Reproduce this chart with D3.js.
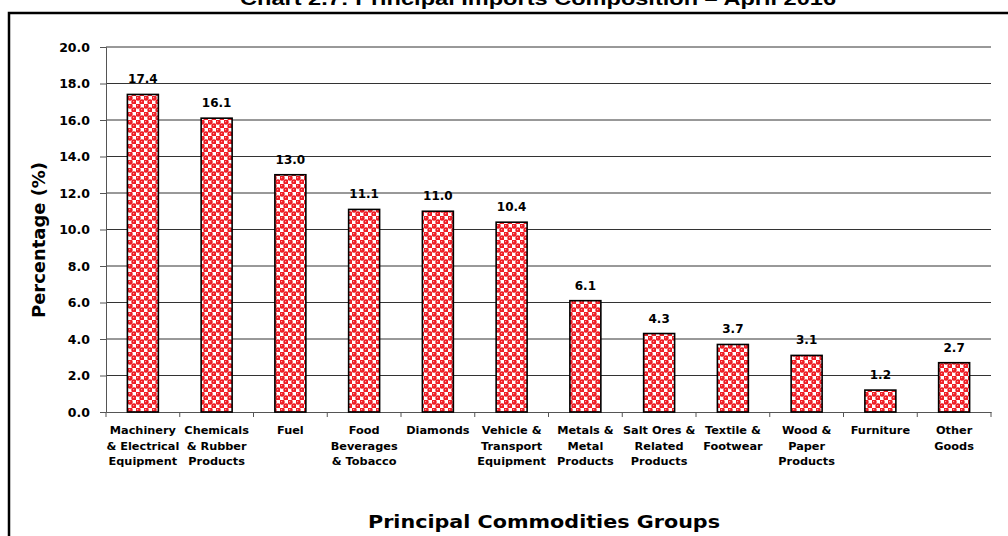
<!DOCTYPE html>
<html><head><meta charset="utf-8">
<script src="https://cdn.jsdelivr.net/npm/d3@7"></script>
<style>body{margin:0;background:#fff;overflow:hidden}svg{display:block}</style>
</head><body>
<script>
const categories = [
  ["Machinery","& Electrical","Equipment"],
  ["Chemicals","& Rubber","Products"],
  ["Fuel"],
  ["Food","Beverages","& Tobacco"],
  ["Diamonds"],
  ["Vehicle &","Transport","Equipment"],
  ["Metals &","Metal","Products"],
  ["Salt Ores &","Related","Products"],
  ["Textile &","Footwear"],
  ["Wood &","Paper","Products"],
  ["Furniture"],
  ["Other","Goods"]
];
const values = [17.4, 16.1, 13.0, 11.1, 11.0, 10.4, 6.1, 4.3, 3.7, 3.1, 1.2, 2.7];
const yTicks = [0, 2, 4, 6, 8, 10, 12, 14, 16, 18, 20];
const title = "Chart 2.7: Principal Imports Composition \u2013 April 2016";
const yTitle = "Percentage (%)";
const xTitle = "Principal Commodities Groups";

(function(){
const W = 1008, H = 536;
const font = "'DejaVu Sans', sans-serif";
const svg = d3.select("body").append("svg").attr("width", W).attr("height", H);

const red = "#ee1c24";
const defs = svg.append("defs");
const pat = defs.append("pattern").attr("id","chk").attr("patternUnits","userSpaceOnUse")
  .attr("width",8).attr("height",8);
pat.append("rect").attr("width",8).attr("height",8).attr("fill","#ffffff");
[[0,0],[4,4]].forEach(p=>pat.append("rect").attr("x",p[0]).attr("y",p[1]).attr("width",4).attr("height",4).attr("fill",red));
[[2,2],[6,6]].forEach(p=>pat.append("circle").attr("cx",p[0]).attr("cy",p[1]).attr("r",2.7).attr("fill",red));
[[1,1],[5,5]].forEach(p=>pat.append("rect").attr("x",p[0]).attr("y",p[1]).attr("width",1.2).attr("height",1.2).attr("fill","#ff9a9a"));

svg.append("rect").attr("x",9).attr("y",13).attr("width",W+20).attr("height",H+20)
  .attr("fill","none").attr("stroke","#000").attr("stroke-width",2.5);

svg.append("text").attr("x",538).attr("y",5).attr("text-anchor","middle")
  .attr("font-family","'Liberation Sans', Arial, sans-serif").attr("font-weight","bold")
  .attr("font-size",18).attr("textLength",596).attr("lengthAdjust","spacingAndGlyphs").text(title);

const pl = 106, pr = 991, pt = 47, pb = 412;
const x = d3.scaleBand().domain(d3.range(categories.length)).range([pl, pr]).paddingInner(0.58).paddingOuter(0.29);
const xb = d3.scaleBand().domain(d3.range(categories.length)).range([pl, pr]);
const y = d3.scaleLinear().domain([0, 20]).range([pb, pt]);

svg.append("g").selectAll("line").data(yTicks.filter(d=>d>0)).join("line")
  .attr("x1",pl).attr("x2",pr).attr("y1",d=>y(d)).attr("y2",d=>y(d))
  .attr("stroke","#333").attr("stroke-width",1);

const ya = svg.append("g").attr("transform",`translate(${pl},0)`)
  .call(d3.axisLeft(y).tickValues(yTicks).tickFormat(d3.format(".1f")).tickSize(6).tickPadding(10));
ya.select(".domain").attr("stroke","#555");
ya.selectAll(".tick line").attr("stroke","#555");
ya.selectAll("text").attr("font-family",font).attr("font-weight","bold").attr("font-size",12.5).attr("fill","#000");

const xa = svg.append("g").attr("transform",`translate(0,${pb})`)
  .call(d3.axisBottom(xb).tickSize(0).tickFormat(""));
xa.select(".domain").attr("stroke","#555");
xa.selectAll(".tick").remove();
xa.selectAll("line.b").data(d3.range(categories.length+1)).join("line").attr("class","b")
  .attr("x1",i=>pl+i*xb.step()).attr("x2",i=>pl+i*xb.step()).attr("y1",0).attr("y2",5)
  .attr("stroke","#555");

svg.append("g").selectAll("rect").data(values).join("rect")
  .attr("x",(d,i)=>x(i)).attr("width",x.bandwidth())
  .attr("y",d=>y(d)).attr("height",d=>pb-y(d))
  .attr("fill","url(#chk)").attr("stroke","#000").attr("stroke-width",1.6);

svg.append("g").selectAll("text").data(values).join("text")
  .attr("x",(d,i)=>x(i)+x.bandwidth()/2).attr("y",d=>y(d)-11)
  .attr("text-anchor","middle").attr("font-family",font).attr("font-weight","bold")
  .attr("font-size",12).text(d=>d.toFixed(1));

const cl = svg.append("g").selectAll("text").data(categories).join("text")
  .attr("x",(d,i)=>xb(i)+xb.bandwidth()/2).attr("y",434)
  .attr("text-anchor","middle").attr("font-family",font).attr("font-weight","bold")
  .attr("font-size",11.3);
cl.each(function(lines){
  const t = d3.select(this);
  lines.forEach((s,j)=>t.append("tspan").attr("x",t.attr("x")).attr("dy",j?15.5:0).text(s));
});

svg.append("text").attr("transform",`translate(45,240) rotate(-90)`)
  .attr("text-anchor","middle").attr("font-family",font).attr("font-weight","bold")
  .attr("font-size",18).attr("textLength",156).attr("lengthAdjust","spacingAndGlyphs").text(yTitle);
svg.append("text").attr("x",544).attr("y",528).attr("text-anchor","middle")
  .attr("font-family",font).attr("font-weight","bold").attr("font-size",18.5)
  .attr("textLength",352).attr("lengthAdjust","spacingAndGlyphs").text(xTitle);
})();
</script>
</body></html>
